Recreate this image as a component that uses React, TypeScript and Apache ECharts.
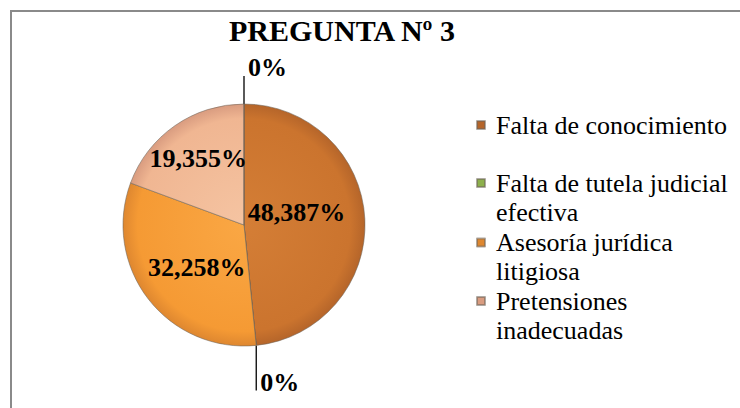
import React, { useEffect, useRef } from 'react';
import * as echarts from 'echarts';

const chartTitle = 'PREGUNTA Nº 3';
const categories = [
  'Falta de conocimiento',
  'Falta de tutela judicial efectiva',
  'Asesoría jurídica litigiosa',
  'Pretensiones inadecuadas',
  '',
];
const counts = [15, 0, 10, 6, 0];
const legendLines = [
  ['Falta de conocimiento'],
  ['Falta de tutela judicial', 'efectiva'],
  ['Asesoría jurídica', 'litigiosa'],
  ['Pretensiones', 'inadecuadas'],
];

const CX = 244;
const CY = 225;
const R = 121;

function radial(stops: [number, string][]) {
  return {
    type: 'radial',
    x: CX,
    y: CY,
    r: R,
    global: true,
    colorStops: stops.map(([offset, color]) => ({ offset, color })),
  };
}

const sliceColors: any[] = [
  radial([[0, '#D47E36'], [0.88, '#CB742E'], [1, '#B5652A']]),
  '#8DB04C',
  radial([[0, '#FAA744'], [0.88, '#F59A34'], [1, '#DE8730']]),
  radial([[0, '#F5C4A2'], [0.88, '#F0B692'], [1, '#D99C80']]),
  '#999999',
];

const insideOffsets: Record<number, [number, number]> = {
  0: [-11, -9],
  2: [3, 4],
  3: [-9.5, -14],
};

const legendTops = [107.4, 136.2, 195.8, 254.2];

const SERIF = 'Liberation Serif';

export default function App() {
  const ref = useRef<HTMLDivElement>(null);
  useEffect(() => {
    if (!ref.current) return;
    const chart = echarts.init(ref.current, undefined, { renderer: 'svg' });
    const data = categories.map((name, i) => {
      const zero = counts[i] === 0;
      return {
        name,
        value: counts[i],
        itemStyle: { color: sliceColors[i] },
        label: zero ? { position: 'outside' } : { position: 'inside' },
        labelLine: zero
          ? { show: true, length: 20, length2: 0, lineStyle: { color: '#000', width: 1.3 } }
          : { show: false },
      };
    });
    const legends = legendLines.map((lines, idx) => ({
      data: [categories[idx]],
      orient: 'vertical',
      left: 476,
      top: legendTops[idx],
      padding: 0,
      icon: 'rect',
      itemWidth: 8,
      itemHeight: 8,
      selectedMode: false,
      formatter: () => (lines.length > 1 ? ' \n' + lines.join('\n') : lines[0]),
      textStyle: {
        fontFamily: SERIF,
        fontSize: 26,
        lineHeight: 29.2,
        color: '#000',
        padding: [6, 0, 0, 6],
      },
    }));
    chart.setOption({
      animation: false,
      backgroundColor: '#ffffff',
      title: {
        text: chartTitle,
        left: 229,
        top: 13,
        padding: 0,
        textStyle: {
          fontFamily: SERIF,
          fontWeight: 'bold',
          fontSize: 30,
          lineHeight: 34,
          color: '#000',
        },
      },
      legend: legends,
      graphic: [
        {
          type: 'rect',
          z: -10,
          shape: { x: 11, y: 11, width: 760, height: 420 },
          style: { fill: 'none', stroke: '#8a8a8a', lineWidth: 2 },
        },
      ],
      series: [
        {
          type: 'pie',
          center: [CX, CY],
          radius: R,
          startAngle: 90,
          clockwise: true,
          avoidLabelOverlap: false,
          percentPrecision: 3,
          minShowLabelAngle: 0,
          itemStyle: { borderColor: 'rgba(110,100,90,0.55)', borderWidth: 1 },
          label: {
            show: true,
            fontFamily: SERIF,
            fontWeight: 'bold',
            fontSize: 26,
            color: '#000',
            formatter: (p: any) =>
              p.percent === 0 ? '0%' : p.percent.toFixed(3).replace('.', ',') + '%',
          },
          labelLayout: (p: any) => {
            const pts = p.labelLinePoints;
            if (counts[p.dataIndex] === 0 && pts && pts.length) {
              const p0 = pts[0];
              const up = p0[1] < CY;
              if (up) {
                return {
                  x: p0[0] + 4,
                  y: p0[1] - 36.5,
                  align: 'left',
                  verticalAlign: 'middle',
                  labelLinePoints: [p0, [p0[0], p0[1] - 28]],
                };
              }
              return {
                x: p0[0] + 4,
                y: p0[1] + 37,
                align: 'left',
                verticalAlign: 'middle',
                labelLinePoints: [p0, [p0[0], p0[1] + 45]],
              };
            }
            const off = insideOffsets[p.dataIndex] || [0, 0];
            return { dx: off[0], dy: off[1] };
          },
          data,
        },
      ],
    });
    return () => chart.dispose();
  }, []);
  return (
    <div
      ref={ref}
      style={{ position: 'fixed', left: 0, top: 0, width: 740, height: 408, background: '#fff' }}
    />
  );
}
